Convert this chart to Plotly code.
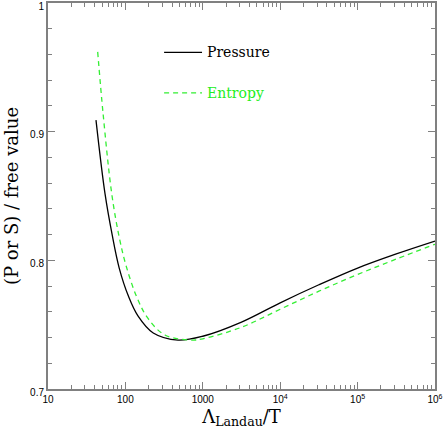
import plotly.graph_objects as go

# Lambda_Landau / T (log10) and ratio to free value
p_logx = [1.62, 1.736, 1.83, 1.92, 2.04, 2.16, 2.36, 2.68, 3.0, 3.5, 4.0, 4.5, 5.0, 5.5, 6.0]
pressure = [0.909, 0.852, 0.8195, 0.794, 0.772, 0.757, 0.7435, 0.738, 0.741, 0.752, 0.767, 0.781, 0.794, 0.805, 0.815]

s_logx = [1.642, 1.711, 1.823, 1.92, 2.008, 2.15, 2.29, 2.51, 2.86, 3.0, 3.5, 4.0, 4.5, 5.0, 5.5, 6.0]
entropy = [0.962, 0.9145, 0.852, 0.818, 0.796, 0.771, 0.755, 0.742, 0.738, 0.739, 0.748, 0.762, 0.776, 0.789, 0.801, 0.8125]

xtick_vals = [10, 100, 1000, 1e4, 1e5, 1e6]
xtick_text = ["10", "100", "1000", "10<sup>4</sup>", "10<sup>5</sup>", "10<sup>6</sup>"]

fig = go.Figure()
fig.add_trace(go.Scatter(x=[10 ** v for v in p_logx], y=pressure, mode="lines",
                         line=dict(color="black", width=1.3, shape="spline", smoothing=1.0),
                         name="Pressure"))
fig.add_trace(go.Scatter(x=[10 ** v for v in s_logx], y=entropy, mode="lines",
                         line=dict(color="#33ee33", width=1.3, dash="5px,4px", shape="spline", smoothing=1.0),
                         name="Entropy"))

# hand-made legend
fig.add_shape(type="line", xref="paper", yref="paper", x0=0.30, x1=0.398, y0=0.872, y1=0.872,
              line=dict(color="black", width=1.3))
fig.add_shape(type="line", xref="paper", yref="paper", x0=0.30, x1=0.398, y0=0.767, y1=0.767,
              line=dict(color="#33ee33", width=1.3, dash="5px,4px"))
fig.add_annotation(text="Pressure", xref="paper", yref="paper", x=0.405, y=0.872, xanchor="left",
                   yanchor="middle", showarrow=False, font=dict(family="DejaVu Serif", size=14, color="black"))
fig.add_annotation(text="Entropy", xref="paper", yref="paper", x=0.405, y=0.767, xanchor="left",
                   yanchor="middle", showarrow=False, font=dict(family="DejaVu Serif", size=14, color="#22ee22"))

axis_common = dict(showline=True, linecolor="#808080", linewidth=2, mirror="ticks",
                   ticks="inside", tickcolor="#808080", ticklen=7, tickwidth=1,
                   showgrid=False, zeroline=False, automargin=False, ticklabeloverflow="allow",
                   tickfont=dict(family="Liberation Sans", size=10, color="black"))

fig.update_xaxes(type="log", range=[1, 6], tickvals=xtick_vals, ticktext=xtick_text,
                 minor=dict(ticks="inside", ticklen=4, tickcolor="#808080", dtick="D1", showgrid=False),
                 title=dict(text="Λ<sub>Landau</sub>/T", font=dict(family="DejaVu Serif", size=18, color="black"),
                            standoff=6),
                 **axis_common)
fig.update_yaxes(range=[0.7, 1.0], tickvals=[0.7, 0.8, 0.9, 1.0], ticktext=["0.7", "0.8", "0.9", "1"],
                 ticklabelshift=3,
                 minor=dict(ticks="inside", ticklen=4, tickcolor="#808080", dtick=0.02, showgrid=False),
                 title=dict(text="(P or S) / free value", font=dict(family="DejaVu Serif", size=18, color="black"),
                            standoff=7),
                 **axis_common)

fig.update_layout(width=443, height=435, margin=dict(l=48, r=8, t=3, b=46),
                  plot_bgcolor="white", paper_bgcolor="white", showlegend=False)

fig.write_html("out.html", config={"displayModeBar": False},
               post_script="document.body.style.margin='0';")
